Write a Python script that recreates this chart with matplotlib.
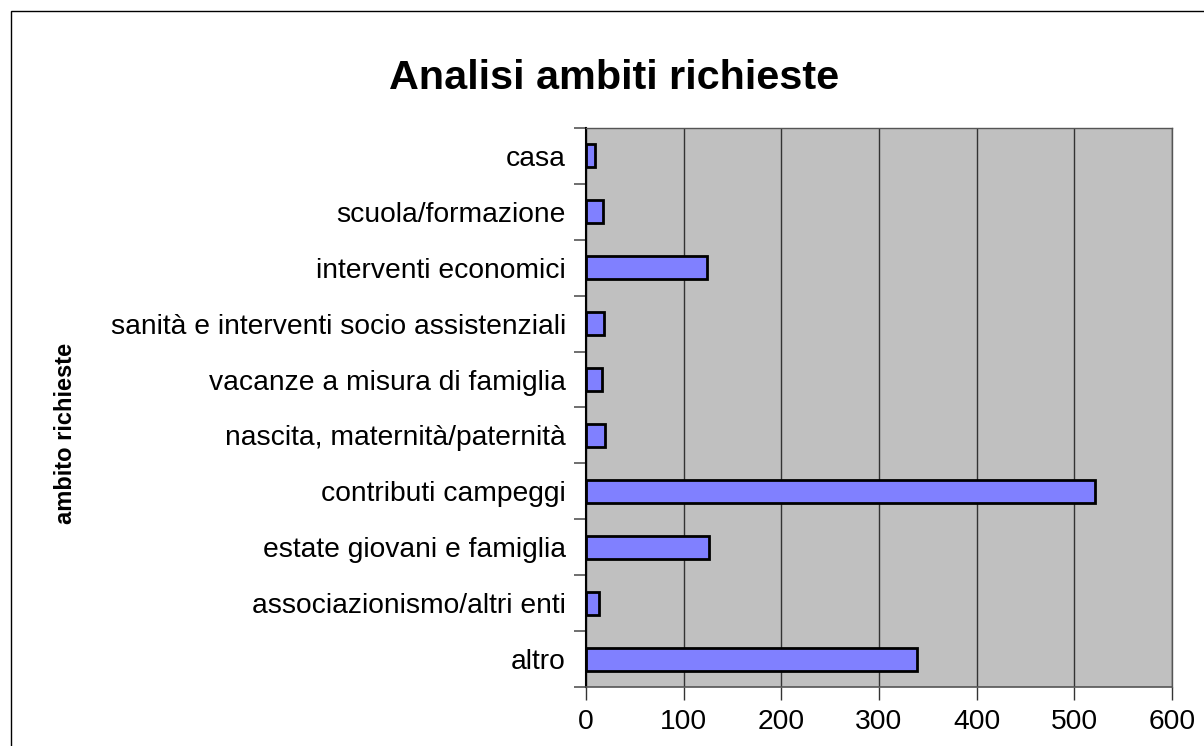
import matplotlib
matplotlib.use("Agg")
import matplotlib.pyplot as plt
from matplotlib.patches import Rectangle
import numpy as np

plt.rcParams['font.family'] = ['Liberation Sans', 'DejaVu Sans']

categories = ["casa", "scuola/formazione", "interventi economici",
              "sanità e interventi socio assistenziali", "vacanze a misura di famiglia",
              "nascita, maternità/paternità", "contributi campeggi",
              "estate giovani e famiglia", "associazionismo/altri enti", "altro"]
values = [9, 17, 124, 18, 16, 19, 521, 126, 13, 339]
xticks = [0, 100, 200, 300, 400, 500, 600]

fig = plt.figure(figsize=(12.04, 7.46), dpi=100)
fig.patch.set_facecolor("white")
fig.patches.append(Rectangle((11/1204, -0.2), 1.2, 1 - 11/746 + 0.2,
                             transform=fig.transFigure, fill=False,
                             edgecolor="black", linewidth=1.0))

ax = fig.add_axes([586/1204, 1 - 687/746, (1172 - 586)/1204, (687 - 128)/746])
ax.set_facecolor("#C0C0C0")
n = len(categories)
ypos = np.arange(n)
ax.barh(ypos, values, height=0.41, color="#8080FF", edgecolor="black",
        linewidth=2.0, zorder=3)
ax.set_ylim(n - 0.5, -0.5)
ax.set_xlim(0, 600)
ax.set_xticks(xticks)
ax.set_xticklabels([str(t) for t in xticks], fontsize=20.3)
ax.set_yticks(ypos)
ax.set_yticklabels(categories, fontsize=20.3)
ax.set_yticks(np.arange(n + 1) - 0.5, minor=True)
ax.tick_params(axis="y", which="major", length=0, pad=14.5)
ax.tick_params(axis="y", which="minor", length=9, width=1.2, color="#555555")
ax.tick_params(axis="x", which="major", length=9, width=1.0, color="#333333", pad=7)
ax.xaxis.grid(True, color="#333333", linewidth=1.0, zorder=1)
ax.set_axisbelow(True)
for s in ["top", "right"]:
    ax.spines[s].set_color("#555555")
    ax.spines[s].set_linewidth(1.0)
ax.spines["left"].set_color("black")
ax.spines["left"].set_linewidth(1.5)
ax.spines["bottom"].set_color("#555555")
ax.spines["bottom"].set_linewidth(1.2)

fig.text(614/1204, 1 - 89/746, "Analisi ambiti richieste", fontsize=29.8,
         fontweight="bold", ha="center", va="baseline")
fig.text(66/1204, 1 - 433/746, "ambito richieste", fontsize=17,
         fontweight="bold", rotation=90, ha="center", va="center")

fig.savefig("out.png", dpi=100)
